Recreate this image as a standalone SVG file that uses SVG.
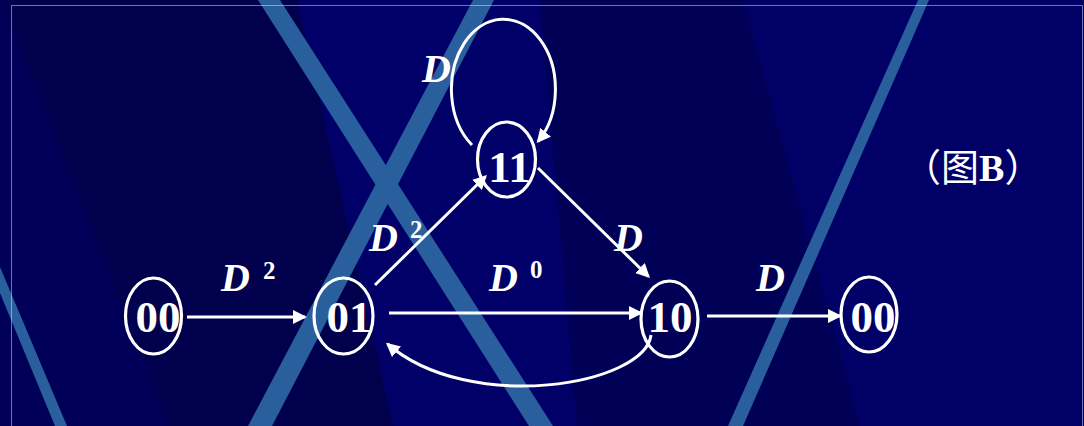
<svg xmlns="http://www.w3.org/2000/svg" width="1084" height="426" viewBox="0 0 1084 426">
<style>
.bg-stripe{fill:#2A5F9E}
.node ellipse{fill:none;stroke:#fff;stroke-width:3.2}
.node text{font-family:"Liberation Serif","Times New Roman",serif;font-weight:bold;font-size:45px;fill:#fff;text-anchor:middle}
.edge{fill:none;stroke:#fff;stroke-width:3;marker-end:url(#arrow)}
.lbl{font-family:"Liberation Serif","Times New Roman",serif;font-weight:bold;font-style:italic;font-size:40px;fill:#fff}
.sup{font-family:"Liberation Serif","Times New Roman",serif;font-weight:bold;font-size:25px;fill:#fff}
.cap{font-family:"Liberation Serif","Noto Sans CJK SC",serif;font-weight:normal;font-size:38px;fill:#fff}
</style>
<defs>
<marker id="arrow" viewBox="0 0 14 14" refX="12" refY="7" markerWidth="14" markerHeight="14" markerUnits="userSpaceOnUse" orient="auto">
<path d="M0,0 L14,7 L0,14 z" fill="#fff"/>
</marker>
</defs>
<g id="background">
<rect x="0" y="0" width="1084" height="426" fill="#00004C"/>
<polygon points="0,0 2,0 170,426 0,426" fill="#000058"/>
<polygon points="297,0 540,0 577,426 393,426" fill="#000068"/>
<polygon points="540,0 743,0 860,426 577,426" fill="#000056"/>
<polygon points="743,0 1084,0 1084,426 860,426" fill="#000066"/>
<polygon class="bg-stripe" points="258,0 280,0 553,426 529,426"/>
<polygon class="bg-stripe" points="473,0 494,0 272,426 248,426"/>
<polygon class="bg-stripe" points="918,0 929,0 743,426 728,426"/>
<polygon class="bg-stripe" points="0,267 67,426 55,426 0,293"/>
<rect x="11.5" y="5.5" width="1071" height="440" fill="none" stroke="#e8e8f0" stroke-width="1" stroke-dasharray="1 1"/>
</g>
<g id="connectors">
<path class="edge" d="M187,317 H305"/>
<path class="edge" d="M375,285 L485.5,176.5"/>
<path class="edge" d="M538,168 L648.5,276.5"/>
<path class="edge" d="M389,313 H641"/>
<path class="edge" d="M707,316 H840"/>
<path class="edge" d="M651,335 C645,385 470,415 387.5,344"/>
<path class="edge" d="M472,145 A52,70 0 1 1 538,141.5"/>
</g>
<g id="labels">
<text class="lbl" x="221" y="291">D</text><text class="sup" x="263" y="279">2</text>
<text class="lbl" x="422" y="82">D</text>
<text class="lbl" x="369" y="251">D</text><text class="sup" x="410" y="238">2</text>
<text class="lbl" x="489" y="291">D</text><text class="sup" x="530" y="278">0</text>
<text class="lbl" x="614" y="251">D</text>
<text class="lbl" x="756" y="291">D</text>
</g>
<g id="node-00a" class="node"><ellipse cx="153.5" cy="316" rx="28" ry="38"/><text x="158" y="332">00</text></g>
<g id="node-01" class="node"><ellipse cx="343.5" cy="316" rx="29.5" ry="38"/><text x="349" y="332">01</text></g>
<g id="node-11" class="node"><ellipse cx="506.5" cy="159.5" rx="29" ry="37.5"/><text x="509.5" y="182">11</text></g>
<g id="node-10" class="node"><ellipse cx="669.5" cy="319" rx="28.5" ry="38"/><text x="670" y="332">10</text></g>
<g id="node-00b" class="node"><ellipse cx="869" cy="314.5" rx="28" ry="37.5"/><text x="873" y="332">00</text></g>
<g id="caption"><text class="cap" x="903" y="181">（图<tspan font-weight="bold">B</tspan>）</text></g>
</svg>
